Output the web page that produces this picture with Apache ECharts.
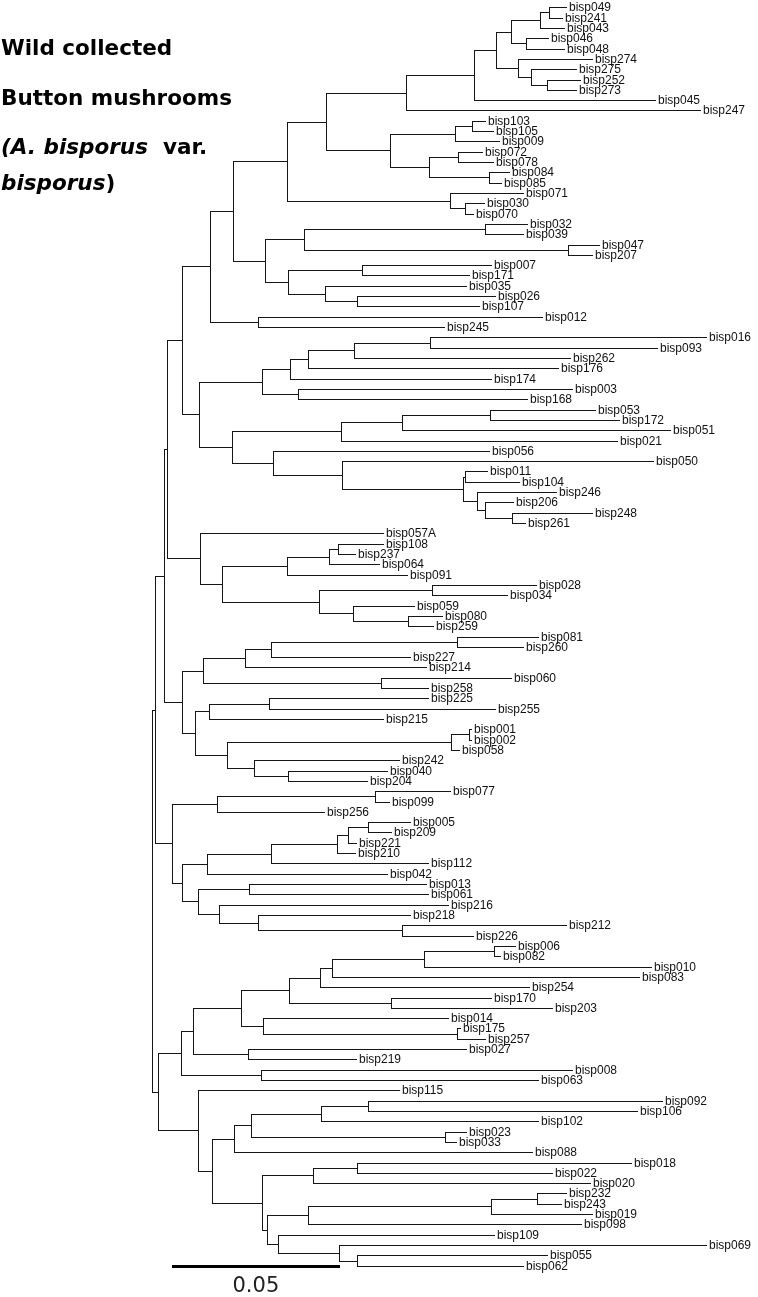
<!DOCTYPE html>
<html><head><meta charset="utf-8">
<script src="https://cdn.jsdelivr.net/npm/echarts@6/dist/echarts.min.js"></script>
<style>html,body{margin:0;padding:0;background:#fff}#c{width:758px;height:1297px}</style>
</head><body><div id="c"></div>
<script>
// ---- DATA ----
const leafNames = ['bisp049','bisp241','bisp043','bisp046','bisp048','bisp274','bisp275','bisp252','bisp273','bisp045',
'bisp247','bisp103','bisp105','bisp009','bisp072','bisp078','bisp084','bisp085','bisp071','bisp030',
'bisp070','bisp032','bisp039','bisp047','bisp207','bisp007','bisp171','bisp035','bisp026','bisp107',
'bisp012','bisp245','bisp016','bisp093','bisp262','bisp176','bisp174','bisp003','bisp168','bisp053',
'bisp172','bisp051','bisp021','bisp056','bisp050','bisp011','bisp104','bisp246','bisp206','bisp248',
'bisp261','bisp057A','bisp108','bisp237','bisp064','bisp091','bisp028','bisp034','bisp059','bisp080',
'bisp259','bisp081','bisp260','bisp227','bisp214','bisp060','bisp258','bisp225','bisp255','bisp215',
'bisp001','bisp002','bisp058','bisp242','bisp040','bisp204','bisp077','bisp099','bisp256','bisp005',
'bisp209','bisp221','bisp210','bisp112','bisp042','bisp013','bisp061','bisp216','bisp218','bisp212',
'bisp226','bisp006','bisp082','bisp010','bisp083','bisp254','bisp170','bisp203','bisp014','bisp175',
'bisp257','bisp027','bisp219','bisp008','bisp063','bisp115','bisp092','bisp106','bisp102','bisp023',
'bisp033','bisp088','bisp018','bisp022','bisp020','bisp232','bisp243','bisp019','bisp098','bisp109',
'bisp069','bisp055','bisp062'];
// distance from root to each leaf tip (substitutions per site)
const leafDepth = [0.1233,0.1221,0.1227,0.1180,0.1227,0.1309,0.1262,0.1274,0.1262,0.1496,
0.1630,0.0991,0.1017,0.1034,0.0982,0.1017,0.1063,0.1040,0.1104,0.0988,
0.0958,0.1116,0.1104,0.1332,0.1309,0.1011,0.0946,0.0935,0.1023,0.0976,
0.1163,0.0870,0.1648,0.1502,0.1245,0.1209,0.1011,0.1250,0.1116,0.1320,
0.1391,0.1542,0.1385,0.1005,0.1490,0.0999,0.1092,0.1204,0.1075,0.1309,
0.1110,0.0689,0.0689,0.0605,0.0678,0.0760,0.1145,0.1058,0.0783,0.0865,
0.0839,0.1151,0.1104,0.0769,0.0818,0.1069,0.0824,0.0824,0.1023,0.0689,
0.0952,0.0952,0.0916,0.0736,0.0701,0.0643,0.0888,0.0707,0.0514,0.0771,
0.0713,0.0608,0.0605,0.0824,0.0701,0.0818,0.0824,0.0882,0.0771,0.1233,
0.0958,0.1081,0.1038,0.1484,0.1449,0.1122,0.1011,0.1192,0.0882,0.0917,
0.0993,0.0935,0.0608,0.1250,0.1151,0.0736,0.1519,0.1443,0.1151,0.0935,
0.0905,0.1133,0.1427,0.1191,0.1305,0.1234,0.1219,0.1309,0.1277,0.1019,
0.1649,0.1176,0.1105];
// internal nodes: clade spans (first leaf, last leaf) and node depth from root
const cladeFirst = ['bisp049','bisp049','bisp046','bisp049','bisp252','bisp275','bisp274','bisp049','bisp049','bisp049',
'bisp103','bisp103','bisp072','bisp084','bisp072','bisp103','bisp049','bisp030','bisp071','bisp049',
'bisp032','bisp047','bisp032','bisp007','bisp026','bisp035','bisp007','bisp032','bisp049','bisp012',
'bisp049','bisp016','bisp016','bisp016','bisp016','bisp003','bisp016','bisp053','bisp053','bisp053',
'bisp248','bisp206','bisp246','bisp011','bisp011','bisp050','bisp056','bisp053','bisp016','bisp049',
'bisp108','bisp108','bisp108','bisp028','bisp080','bisp059','bisp028','bisp108','bisp057A','bisp049',
'bisp081','bisp081','bisp081','bisp060','bisp081','bisp225','bisp225','bisp001','bisp001','bisp040',
'bisp242','bisp001','bisp225','bisp081','bisp049','bisp077','bisp077','bisp005','bisp005','bisp005',
'bisp005','bisp005','bisp013','bisp212','bisp218','bisp216','bisp013','bisp005','bisp077','bisp049',
'bisp006','bisp006','bisp006','bisp006','bisp170','bisp006','bisp175','bisp014','bisp006','bisp027',
'bisp006','bisp008','bisp006','bisp092','bisp092','bisp023','bisp092','bisp092','bisp018','bisp018',
'bisp232','bisp232','bisp232','bisp055','bisp069','bisp109','bisp232','bisp018','bisp092','bisp115',
'bisp006','bisp049'];
const cladeLast = ['bisp241','bisp043','bisp048','bisp048','bisp273','bisp273','bisp273','bisp273','bisp045','bisp247',
'bisp105','bisp009','bisp078','bisp085','bisp085','bisp085','bisp085','bisp070','bisp070','bisp070',
'bisp039','bisp207','bisp207','bisp171','bisp107','bisp107','bisp107','bisp107','bisp107','bisp245',
'bisp245','bisp093','bisp262','bisp176','bisp174','bisp168','bisp168','bisp172','bisp051','bisp021',
'bisp261','bisp261','bisp261','bisp104','bisp261','bisp261','bisp261','bisp261','bisp261','bisp261',
'bisp237','bisp064','bisp091','bisp034','bisp259','bisp259','bisp259','bisp259','bisp259','bisp259',
'bisp260','bisp227','bisp214','bisp258','bisp258','bisp255','bisp215','bisp002','bisp058','bisp204',
'bisp204','bisp204','bisp204','bisp204','bisp204','bisp099','bisp256','bisp209','bisp221','bisp210',
'bisp112','bisp042','bisp061','bisp226','bisp226','bisp226','bisp226','bisp226','bisp226','bisp226',
'bisp082','bisp010','bisp083','bisp254','bisp203','bisp203','bisp257','bisp257','bisp257','bisp219',
'bisp219','bisp063','bisp063','bisp106','bisp102','bisp033','bisp033','bisp088','bisp022','bisp020',
'bisp243','bisp019','bisp098','bisp062','bisp062','bisp062','bisp062','bisp062','bisp062','bisp062',
'bisp062','bisp062'];
const cladeDepth = [0.1180,0.1154,0.1110,0.1066,0.1174,0.1127,0.1087,0.1023,0.0956,0.0754,
0.0952,0.0900,0.0909,0.1000,0.0824,0.0708,0.0516,0.0929,0.0886,0.0401,
0.0988,0.1236,0.0453,0.0625,0.0610,0.0514,0.0405,0.0337,0.0242,0.0316,
0.0173,0.0827,0.0600,0.0465,0.0409,0.0435,0.0327,0.1003,0.0744,0.0561,
0.1069,0.0990,0.0965,0.0929,0.0925,0.0564,0.0360,0.0237,0.0140,0.0091,
0.0552,0.0526,0.0400,0.0832,0.0762,0.0596,0.0497,0.0208,0.0143,0.0044,
0.0905,0.0354,0.0278,0.0680,0.0152,0.0348,0.0170,0.0941,0.0888,0.0403,
0.0304,0.0222,0.0129,0.0091,0.0037,0.0664,0.0195,0.0643,0.0584,0.0549,
0.0353,0.0164,0.0288,0.0742,0.0316,0.0199,0.0138,0.0090,0.0061,0.0009,
0.1017,0.0809,0.0534,0.0500,0.0709,0.0407,0.0905,0.0330,0.0265,0.0286,
0.0123,0.0325,0.0088,0.0641,0.0502,0.0870,0.0295,0.0245,0.0610,0.0478,
0.1145,0.1007,0.0464,0.0610,0.0557,0.0374,0.0342,0.0328,0.0178,0.0138,
0.0017,0.0000];
const scaleBarLength = 0.05;
const scaleBarLabel = '0.05';
const titleLines = ['Wild collected', 'Button mushrooms', '(A. bisporus', '  var.', 'bisporus', ')'];

// ---- BUILD TREE (from clade spans) ----
const nodes = leafNames.map((n, i) => ({ name: n, depth: leafDepth[i], y: i, children: [], leaf: true, parent: -1 }));
const idx = {}; leafNames.forEach((n, i) => idx[n] = i);
const owner = leafNames.map((_, i) => i);
const order = cladeFirst.map((_, k) => k).sort((a, b) =>
  (idx[cladeLast[a]] - idx[cladeFirst[a]]) - (idx[cladeLast[b]] - idx[cladeFirst[b]]));
order.forEach(k => {
  const a = idx[cladeFirst[k]], b = idx[cladeLast[k]];
  const ch = [];
  for (let i = a; i <= b; i++) { if (ch[ch.length - 1] !== owner[i]) ch.push(owner[i]); }
  const id = nodes.length;
  nodes.push({ depth: cladeDepth[k], children: ch, leaf: false, parent: -1,
    y: (nodes[ch[0]].y + nodes[ch[ch.length - 1]].y) / 2 });
  ch.forEach(c => nodes[c].parent = id);
  for (let i = a; i <= b; i++) owner[i] = id;
});
const treeData = nodes.map(n => {
  const pd = n.parent >= 0 ? nodes[n.parent].depth : n.depth;
  const yTop = n.leaf ? n.y : nodes[n.children[0]].y;
  const yBot = n.leaf ? n.y : nodes[n.children[n.children.length - 1]].y;
  return [pd, n.depth, n.y, yTop, yBot];
});

const LINE = '#161616';
const crisp = v => Math.round(v) + 0.5;

function renderTree(params, api) {
  const n = nodes[params.dataIndex];
  const pd = api.value(0), d = api.value(1), y = api.value(2);
  const p0 = api.coord([pd, y]), p1 = api.coord([d, y]);
  const yy = crisp(p0[1]);
  const els = [];
  if (p1[0] - p0[0] > 0.3) {
    els.push({ type: 'line', shape: { x1: crisp(p0[0]) - 0.5, y1: yy, x2: Math.round(p1[0]), y2: yy },
      style: { stroke: LINE, lineWidth: 1 } });
  }
  if (!n.leaf) {
    const a = api.coord([d, api.value(3)]), b = api.coord([d, api.value(4)]);
    const xx = crisp(a[0]);
    els.push({ type: 'line', shape: { x1: xx, y1: crisp(a[1]) - 0.5, x2: xx, y2: crisp(b[1]) + 0.5 },
      style: { stroke: LINE, lineWidth: 1 } });
  } else {
    els.push({ type: 'text', x: Math.round(p1[0]) + 2, y: yy,
      style: { text: n.name, fill: '#111', font: '12px "Liberation Sans", Arial, sans-serif',
        align: 'left', verticalAlign: 'middle' } });
  }
  return { type: 'group', children: els };
}

function renderScale(params, api) {
  const x0 = api.value(0), len = api.value(1), y = api.value(2);
  const a = api.coord([x0, y]), b = api.coord([x0 + len, y]);
  return { type: 'group', children: [
    { type: 'rect', shape: { x: Math.round(a[0]), y: Math.round(a[1]) - 1, width: Math.round(b[0] - a[0]), height: 3 },
      style: { fill: '#000' } },
    { type: 'text', x: (a[0] + b[0]) / 2, y: a[1] + 21,
      style: { text: scaleBarLabel, fill: '#222', font: '21px "DejaVu Sans", sans-serif', align: 'center', verticalAlign: 'middle' } }
  ]};
}

const chart = echarts.init(document.getElementById('c'), null, { renderer: 'canvas' });
const titleFont = '"DejaVu Sans", Verdana, sans-serif';
const TS = 21.5;
chart.setOption({
  animation: false,
  backgroundColor: '#fff',
  grid: { left: 151.8, top: 7.3, width: 607.3, height: 1258.4 },
  xAxis: { type: 'value', min: 0, max: 0.18, show: false },
  yAxis: { type: 'value', min: 0, max: leafNames.length - 1, inverse: true, show: false },
  graphic: [
    { type: 'text', x: 1, y: 49, style: { text: titleLines[0], fill: '#000', fontFamily: titleFont, fontSize: TS, fontWeight: 'bold', verticalAlign: 'middle' } },
    { type: 'text', x: 1, y: 99, style: { text: titleLines[1], fill: '#000', fontFamily: titleFont, fontSize: TS, fontWeight: 'bold', verticalAlign: 'middle' } },
    { type: 'text', x: 1, y: 148, style: { text: '{i|' + titleLines[2] + '}{n|' + titleLines[3] + '}', verticalAlign: 'middle',
      rich: { i: { fill: '#000', fontFamily: titleFont, fontSize: TS, fontWeight: 'bold', fontStyle: 'italic' },
              n: { fill: '#000', fontFamily: titleFont, fontSize: TS, fontWeight: 'bold' } } } },
    { type: 'text', x: 1, y: 184, style: { text: '{i|' + titleLines[4] + '}{n|' + titleLines[5] + '}', verticalAlign: 'middle',
      rich: { i: { fill: '#000', fontFamily: titleFont, fontSize: TS, fontWeight: 'bold', fontStyle: 'italic' },
              n: { fill: '#000', fontFamily: titleFont, fontSize: TS, fontWeight: 'bold' } } } }
  ],
  series: [
    { type: 'custom', renderItem: renderTree, data: treeData, clip: false, silent: true,
      encode: { x: [0, 1], y: [2, 3, 4] } },
    { type: 'custom', renderItem: renderScale, data: [[0.0059, scaleBarLength, leafNames.length - 1]], clip: false, silent: true,
      encode: { x: [0], y: [2] } }
  ]
});
</script></body></html>
